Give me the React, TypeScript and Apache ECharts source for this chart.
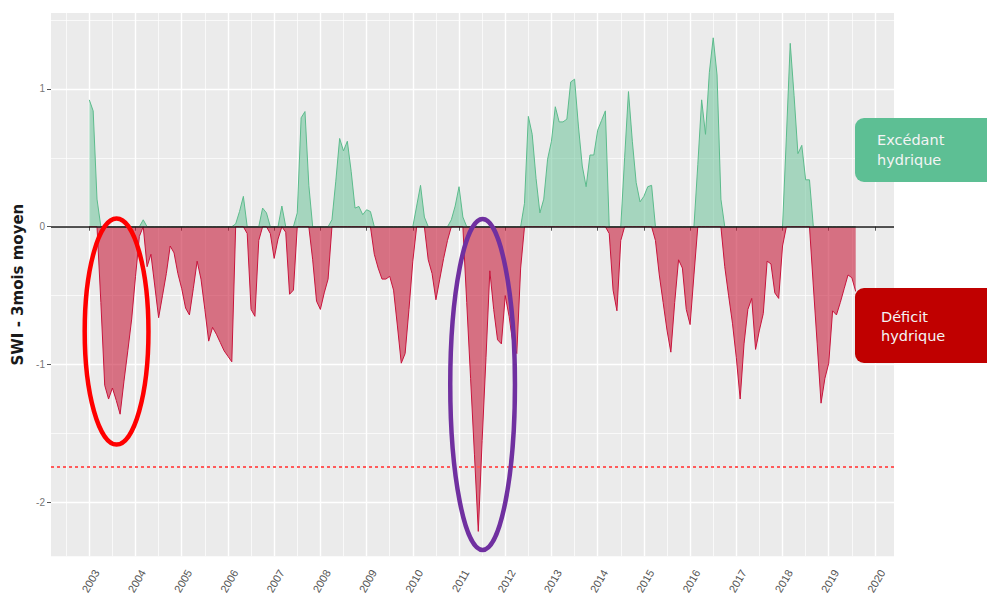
import React, { useEffect, useRef } from "react";
import * as echarts from "echarts";

// Monthly SWI (3-month mean), starting January 2003
const START_YEAR = 2003;
const SWI_VALUES: number[] = [
  // 2003
  0.92, 0.84, 0.2, -0.55, -1.15, -1.25, -1.17, -1.26, -1.36, -1.12, -0.9, -0.67,
  // 2004
  -0.36, -0.07, 0.05, -0.29, -0.2, -0.43, -0.66, -0.5, -0.34, -0.14, -0.19, -0.34,
  // 2005
  -0.45, -0.59, -0.64, -0.45, -0.25, -0.38, -0.6, -0.83, -0.73, -0.78, -0.84, -0.9,
  // 2006
  -0.94, -0.98, 0.02, 0.11, 0.22, -0.05, -0.6, -0.65, -0.1, 0.135, 0.1, -0.05,
  // 2007
  -0.23, -0.09, 0.15, -0.04, -0.49, -0.46, 0.1, 0.79, 0.835, 0.3, -0.24, -0.54,
  // 2008
  -0.6, -0.48, -0.38, 0.05, 0.33, 0.64, 0.55, 0.62, 0.4, 0.135, 0.147, 0.087,
  // 2009
  0.123, 0.11, -0.2, -0.3, -0.38, -0.38, -0.36, -0.46, -0.72, -0.99, -0.92, -0.6,
  // 2010
  -0.25, 0.15, 0.3, 0.07, -0.24, -0.34, -0.53, -0.38, -0.23, -0.1, 0.05, 0.15,
  // 2011
  0.29, 0.07, -0.55, -1.1, -1.65, -2.21, -1.55, -0.95, -0.32, -0.6, -0.82, -0.85,
  // 2012
  -0.5, -0.65, -0.85, -0.92, -0.3, 0.17, 0.8, 0.67, 0.35, 0.1, 0.2, 0.49,
  // 2013
  0.62, 0.87, 0.76, 0.76, 0.78, 1.05, 1.07, 0.73, 0.44, 0.29, 0.52, 0.52,
  // 2014
  0.7, 0.77, 0.84, -0.05, -0.46, -0.61, -0.1, 0.5, 0.98, 0.62, 0.32, 0.18,
  // 2015
  0.22, 0.29, 0.3, -0.1, -0.35, -0.55, -0.75, -0.91, -0.55, -0.24, -0.3, -0.6,
  // 2016
  -0.71, -0.35, 0.45, 0.92, 0.67, 1.12, 1.37, 1.1, 0.2, -0.29, -0.5, -0.7,
  // 2017
  -0.95, -1.25, -0.85, -0.6, -0.52, -0.89, -0.75, -0.63, -0.25, -0.27, -0.48, -0.52,
  // 2018
  -0.14, 0.65, 1.33, 0.95, 0.53, 0.59, 0.34, 0.34, -0.43, -0.85, -1.28, -1.1,
  // 2019
  -0.99, -0.61, -0.64, -0.55, -0.45, -0.35, -0.37, -0.47,
];

const YEAR_TICKS = [
  2003, 2004, 2005, 2006, 2007, 2008, 2009, 2010, 2011, 2012, 2013, 2014, 2015,
  2016, 2017, 2018, 2019, 2020,
];
const YEAR_MINOR = [
  2002.5, 2003.5, 2004.5, 2005.5, 2006.5, 2007.5, 2008.5, 2009.5, 2010.5, 2011.5,
  2012.5, 2013.5, 2014.5, 2015.5, 2016.5, 2017.5, 2018.5, 2019.5,
];
const Y_TICKS = [-2, -1, 0, 1];
const Y_MINOR = [-1.5, -0.5, 0.5, 1.5];
const THRESHOLD = -1.74;

const X_MIN = 2002.171;
const X_MAX = 2020.412;
const Y_MIN = -2.39;
const Y_MAX = 1.55;

const LABEL_EXCESS = ["Excédant", "hydrique"];
const LABEL_DEFICIT = ["Déficit", "hydrique"];
const Y_TITLE = "SWI - 3mois moyen";

// Annotation ellipses (in data units: centre year/value, half-width in years, half-height in SWI)
const RED_ELLIPSE = { cx: 2003.59, cy: -0.76, rx: 0.69, ry: 0.82, color: "#ff0000" };
const PURPLE_ELLIPSE = { cx: 2011.51, cy: -1.145, rx: 0.7, ry: 1.2, color: "#7030a0" };

export default function App() {
  const ref = useRef<HTMLDivElement>(null);

  useEffect(() => {
    if (!ref.current) return;
    const chart = echarts.init(ref.current, null, { renderer: "svg" });

    const pts = SWI_VALUES.map((v, i) => [START_YEAR + i / 12, v]);
    const pos = pts.map(([x, v]) => [x, Math.max(v, 0)]);
    const neg = pts.map(([x, v]) => [x, Math.min(v, 0)]);

    const option: any = {
      animation: false,
      grid: {
        left: 51,
        right: 93,
        top: 13,
        bottom: 40,
        show: true,
        backgroundColor: "#ebebeb",
        borderWidth: 0,
      },
      xAxis: [
        {
          type: "value",
          min: X_MIN,
          max: X_MAX,
          axisLine: { show: false },
          axisTick: {
            show: true,
            customValues: YEAR_TICKS,
            length: 4,
            lineStyle: { color: "#555", width: 1 },
          },
          axisLabel: {
            customValues: YEAR_TICKS,
            rotate: 60,
            align: "right",
            verticalAlign: "top",
            padding: [3, 0, 0, 0],
            margin: 10,
            color: "#555",
            fontSize: 11,
            fontFamily: "Liberation Sans",
            formatter: (v: number) => String(Math.round(v)),
          },
          splitLine: { show: true, lineStyle: { color: "#ffffff", width: 1.4 } },
        },
        {
          type: "value",
          min: X_MIN,
          max: X_MAX,
          position: "bottom",
          axisLine: { show: false },
          axisTick: { show: false, customValues: YEAR_MINOR },
          axisLabel: { show: false, customValues: YEAR_MINOR },
          splitLine: { show: true, lineStyle: { color: "#ffffff", width: 0.7 } },
        },
      ],
      yAxis: [
        {
          type: "value",
          min: Y_MIN,
          max: Y_MAX,
          name: Y_TITLE,
          nameLocation: "middle",
          nameGap: 26,
          nameRotate: 90,
          nameTextStyle: {
            fontFamily: "DejaVu Sans",
            fontWeight: "bold",
            fontSize: 15,
            color: "#1a1a1a",
          },
          axisLine: { show: false },
          axisTick: {
            show: true,
            customValues: Y_TICKS,
            length: 4,
            lineStyle: { color: "#555", width: 1 },
          },
          axisLabel: {
            customValues: Y_TICKS,
            margin: 6,
            color: "#777",
            fontSize: 10,
            fontFamily: "Liberation Sans",
            formatter: (v: number) => String(Math.round(v)),
          },
          splitLine: { show: true, lineStyle: { color: "#ffffff", width: 1.4 } },
        },
        {
          type: "value",
          min: Y_MIN,
          max: Y_MAX,
          position: "left",
          axisLine: { show: false },
          axisTick: { show: false, customValues: Y_MINOR },
          axisLabel: { show: false, customValues: Y_MINOR },
          splitLine: { show: true, lineStyle: { color: "#ffffff", width: 0.7 } },
        },
      ],
      series: [
        {
          name: "Excédant",
          type: "line",
          xAxisIndex: 0,
          yAxisIndex: 0,
          data: pos,
          showSymbol: false,
          symbol: "none",
          lineStyle: { color: "#5cbb8c", width: 1 },
          areaStyle: { color: "#66c296", opacity: 0.52, origin: "auto" },
          silent: true,
          z: 2,
        },
        {
          name: "Déficit",
          type: "line",
          xAxisIndex: 0,
          yAxisIndex: 0,
          data: neg,
          showSymbol: false,
          symbol: "none",
          lineStyle: { color: "#c8143c", width: 1 },
          areaStyle: { color: "#c81e3c", opacity: 0.6, origin: "auto" },
          silent: true,
          z: 3,
          markLine: {
            silent: true,
            symbol: ["none", "none"],
            label: { show: false },
            z: 10,
            data: [
              { yAxis: 0, lineStyle: { color: "#1a1a1a", width: 1.5, type: "solid" } },
              { yAxis: THRESHOLD, lineStyle: { color: "#ff5a5a", width: 2, type: [3, 3] } },
            ],
          },
        },
      ],
    };

    chart.setOption(option);

    const toPx = (x: number, y: number) =>
      chart.convertToPixel({ seriesIndex: 0 }, [x, y]) as number[];
    const ellipse = (a: typeof RED_ELLIPSE) => {
      const c = toPx(a.cx, a.cy);
      const e = toPx(a.cx + a.rx, a.cy + a.ry);
      return {
        type: "ellipse",
        shape: { cx: c[0], cy: c[1], rx: e[0] - c[0], ry: c[1] - e[1] },
        style: { fill: "none", stroke: a.color, lineWidth: 4.5 },
        silent: true,
        z: 100,
      };
    };
    const textLine = (t: string, x: number, y: number) => ({
      type: "text",
      x,
      y,
      style: {
        text: t,
        fill: "#f4f4f4",
        fontSize: 14.5,
        fontFamily: "DejaVu Sans",
        verticalAlign: "middle",
      },
      z: 101,
    });

    chart.setOption({
      graphic: [
        ellipse(RED_ELLIPSE),
        ellipse(PURPLE_ELLIPSE),
        {
          type: "rect",
          shape: { x: 855, y: 118, width: 160, height: 64, r: 9 },
          style: { fill: "#5dbf94" },
          z: 100,
        },
        textLine(LABEL_EXCESS[0], 877, 140),
        textLine(LABEL_EXCESS[1], 877, 159.5),
        {
          type: "rect",
          shape: { x: 855, y: 288, width: 160, height: 75, r: 9 },
          style: { fill: "#c00000" },
          z: 100,
        },
        textLine(LABEL_DEFICIT[0], 881, 316.5),
        textLine(LABEL_DEFICIT[1], 881, 336),
      ],
    });

    return () => {
      chart.dispose();
    };
  }, []);

  return (
    <div
      ref={ref}
      style={{ position: "fixed", left: 0, top: 0, width: 987, height: 597, background: "#ffffff" }}
    />
  );
}
